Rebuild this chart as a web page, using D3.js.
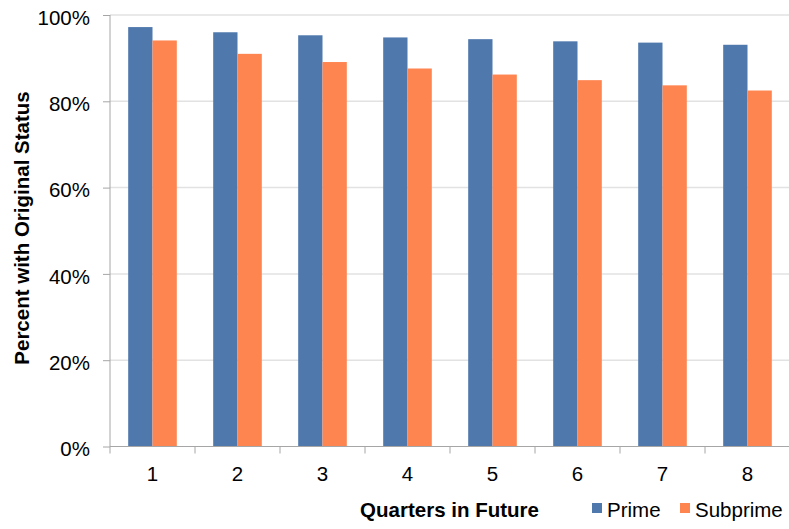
<!DOCTYPE html>
<meta charset="utf-8">
<script src="https://d3js.org/d3.v7.min.js"></script>
<style>
  body { margin: 0; background: #fff; }
  text { font-family: 'Liberation Sans', Arial, sans-serif; fill: #000; }
</style>
<div id="chart"></div>
<script>
// data
var quarters = ["1", "2", "3", "4", "5", "6", "7", "8"];
var prime = [97.2, 96.0, 95.3, 94.8, 94.4, 93.9, 93.6, 93.1];
var subprime = [94.1, 91.0, 89.1, 87.6, 86.2, 84.9, 83.7, 82.5];
var seriesNames = ["Prime", "Subprime"];
var yTicks = [0, 20, 40, 60, 80, 100];

var colors = { Prime: "#4f78ad", Subprime: "#ff8550" };

var W = 789, H = 529;
var margin = { top: 15, left: 110 };
var width = 790 - margin.left, height = 446.5 - margin.top;

var svg = d3.select("#chart").append("svg")
  .attr("width", W).attr("height", H);

var g = svg.append("g")
  .attr("transform", "translate(" + margin.left + "," + margin.top + ")");

var x = d3.scaleBand().domain(quarters).range([0, 680]).paddingInner(0.428).paddingOuter(0.214);
var x0 = d3.scaleBand().domain(quarters).range([0, 680]);
var xs = d3.scaleBand().domain(seriesNames).range([0, x.bandwidth()]);
var y = d3.scaleLinear().domain([0, 100]).range([height, 0]);

// gridlines
g.selectAll(".grid").data(yTicks.filter(function(d){ return d > 0; }))
  .enter().append("line")
    .attr("x1", 0).attr("x2", width)
    .attr("y1", function(d){ return y(d); })
    .attr("y2", function(d){ return y(d); })
    .attr("stroke", "#e2e2e2").attr("stroke-width", 1.5);

// bars
var rows = quarters.map(function(q, i){ return { q: q, Prime: prime[i], Subprime: subprime[i] }; });
var grp = g.selectAll(".grp").data(rows).enter().append("g")
  .attr("transform", function(d){ return "translate(" + x(d.q) + ",0)"; });
grp.selectAll("rect").data(function(d){ return seriesNames.map(function(s){ return { s: s, v: d[s] }; }); })
  .enter().append("rect")
    .attr("x", function(d){ return xs(d.s); })
    .attr("width", xs.bandwidth())
    .attr("y", function(d){ return y(d.v); })
    .attr("height", function(d){ return height - y(d.v); })
    .attr("fill", function(d){ return colors[d.s]; });

// y axis
var yAxis = g.append("g")
  .call(d3.axisLeft(y).tickValues(yTicks).tickSize(7).tickPadding(13).tickFormat(function(d){ return d + "%"; }));
yAxis.select(".domain").attr("stroke", "#a6a6a6").attr("d", "M0," + y(0) + "V" + y(100));
yAxis.selectAll(".tick line").attr("stroke", "#a6a6a6");
yAxis.selectAll(".tick text").style("font-size", "20.5px").attr("dy", "0.45em");

// x axis
var xAxis = g.append("g").attr("transform", "translate(0," + height + ")");
xAxis.append("line").attr("x1", 0).attr("x2", width).attr("stroke", "#a6a6a6");
xAxis.selectAll(".xt").data(quarters.concat(["end"])).enter().append("line")
  .attr("x1", function(d, i){ return i * x0.step(); })
  .attr("x2", function(d, i){ return i * x0.step(); })
  .attr("y1", 0).attr("y2", 7).attr("stroke", "#a6a6a6");
xAxis.selectAll(".xl").data(quarters).enter().append("text")
  .attr("x", function(d){ return x0(d) + x0.bandwidth() / 2; })
  .attr("y", 34.5)
  .attr("text-anchor", "middle")
  .style("font-size", "20.5px")
  .text(function(d){ return d; });

// axis titles
svg.append("text")
  .attr("transform", "translate(29,228) rotate(-90)")
  .attr("text-anchor", "middle")
  .style("font-size", "20.5px").style("font-weight", "bold")
  .text("Percent with Original Status");

svg.append("text")
  .attr("x", 449.5).attr("y", 516.5)
  .attr("text-anchor", "middle")
  .style("font-size", "20.5px").style("font-weight", "bold")
  .text("Quarters in Future");

// legend
var legX = [592, 680];
var leg = svg.selectAll(".leg").data(seriesNames).enter().append("g")
  .attr("transform", function(d, i){ return "translate(" + legX[i] + ",503)"; });
leg.append("rect").attr("width", 10).attr("height", 10)
  .attr("fill", function(d){ return colors[d]; });
leg.append("text").attr("x", 15).attr("y", 14)
  .style("font-size", "20.5px")
  .text(function(d){ return d; });
</script>
